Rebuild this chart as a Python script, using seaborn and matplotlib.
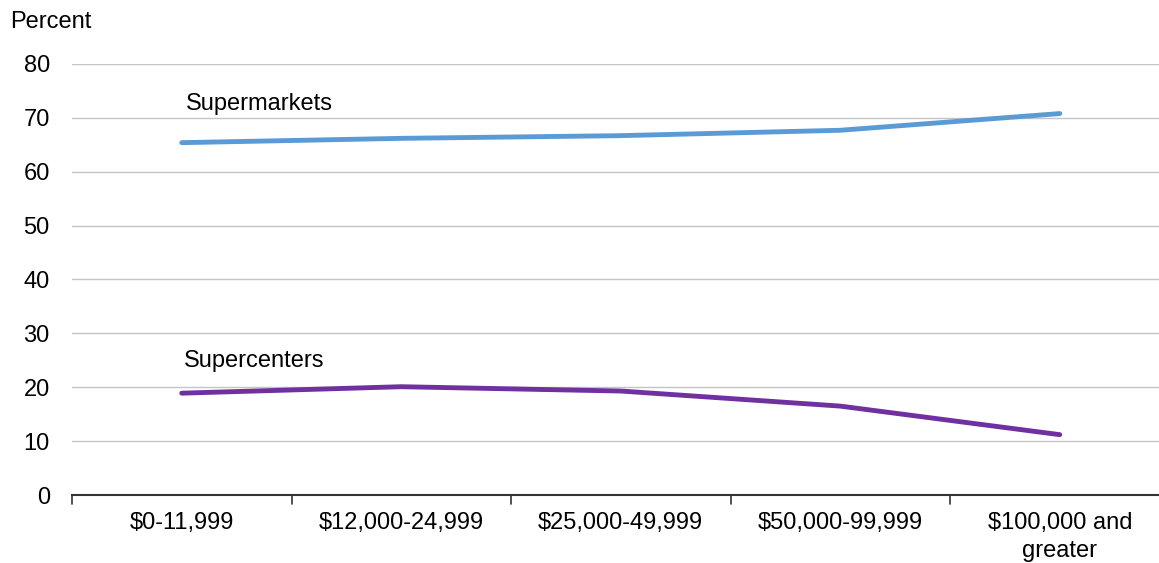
import matplotlib
matplotlib.use("Agg")
import matplotlib.pyplot as plt
import seaborn as sns
import pandas as pd

categories = ["$0-11,999", "$12,000-24,999", "$25,000-49,999", "$50,000-99,999", "$100,000 and\ngreater"]
supermarkets = [65.4, 66.2, 66.7, 67.7, 70.8]
supercenters = [18.9, 20.1, 19.3, 16.5, 11.2]
yticks = [0, 10, 20, 30, 40, 50, 60, 70, 80]

sns.set_style("white")
plt.rcParams['font.family'] = ['Liberation Sans', 'DejaVu Sans']
plt.rcParams['text.color'] = 'black'
plt.rcParams['xtick.color'] = 'black'
plt.rcParams['ytick.color'] = 'black'

FS = 17

df = pd.DataFrame({
    "x": list(range(len(categories))) * 2,
    "value": supermarkets + supercenters,
    "series": ["Supermarkets"] * 5 + ["Supercenters"] * 5,
})

fig = plt.figure(figsize=(11.59, 5.63), dpi=100)
ax = fig.add_axes([72 / 1159, 1 - 495 / 563, (1169.5 - 72) / 1159, (495 - 64) / 563])

sns.lineplot(data=df, x="x", y="value", hue="series",
             palette={"Supermarkets": "#5b9bd5", "Supercenters": "#7030a0"},
             linewidth=3.5, legend=False, ax=ax, solid_capstyle="round")

ax.set_xlim(-0.5, 4.5)
ax.set_ylim(0, 80)
ax.set_yticks(yticks)
ax.set_yticklabels([str(v) for v in yticks], fontsize=FS)
ax.grid(axis="y", color="#c4c4c4", linewidth=1)
ax.set_axisbelow(True)

ax.set_xticks(range(len(categories)))
ax.set_xticklabels(categories, fontsize=FS, linespacing=1.35)
ax.tick_params(axis="x", length=0, pad=12)
ax.tick_params(axis="y", length=0, pad=16)
for b in [-0.5, 0.5, 1.5, 2.5, 3.5]:
    ax.plot([b, b], [0, -1.6], color="#333333", lw=1.2, clip_on=False)

for s in ["top", "right", "left"]:
    ax.spines[s].set_visible(False)
ax.spines["bottom"].set_color("#333333")
ax.spines["bottom"].set_linewidth(1.5)

ax.set_xlabel("")
ax.set_ylabel("")

ax.text(0.02, 72.6, "Supermarkets", fontsize=FS, ha="left", va="center")
ax.text(0.01, 24.8, "Supercenters", fontsize=FS, ha="left", va="center")
fig.text(10 / 1159, 1 - 22 / 563, "Percent", fontsize=FS, ha="left", va="center")

fig.savefig("out.png", dpi=100)
